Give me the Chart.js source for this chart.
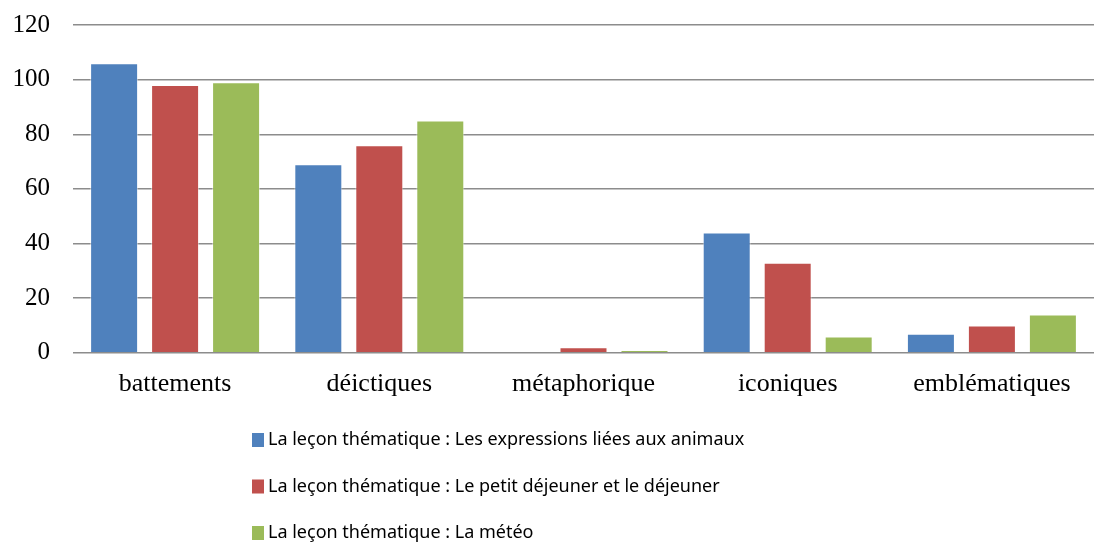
<!DOCTYPE html>
<html>
<head>
<meta charset="utf-8">
<script src="https://cdn.jsdelivr.net/npm/chart.js@4/dist/chart.umd.min.js"></script>
<style>
  html, body { margin: 0; padding: 0; background: #ffffff; }
  #wrap { width: 1094px; height: 546px; position: relative; }
</style>
</head>
<body>
<div id="wrap"><canvas id="c" width="1094" height="546"></canvas></div>
<script>
const categories = ["battements", "déictiques", "métaphorique", "iconiques", "emblématiques"];
const seriesNames = [
  "La leçon thématique : Les expressions liées aux animaux",
  "La leçon thématique : Le petit déjeuner et le déjeuner",
  "La leçon thématique : La météo"
];
const animaux = [106, 69, 0, 44, 7];
const dejeuner = [98, 76, 2, 33, 10];
const meteo = [99, 85, 1, 6, 14];
const seriesColors = ["#4F81BD", "#C0504D", "#9BBB59"];
const yTicks = [0, 20, 40, 60, 80, 100, 120];

const legendPlugin = {
  id: "stackedLegend",
  afterDraw(chart) {
    const ctx = chart.ctx;
    ctx.save();
    ctx.font = '18px "Noto Sans", "Open Sans", sans-serif';
    ctx.textBaseline = "middle";
    ctx.textAlign = "left";
    chart.data.datasets.forEach((ds, i) => {
      const y = 440 + i * 46.5;
      ctx.fillStyle = ds.backgroundColor;
      ctx.fillRect(252, y - 7, 12, 14);
      ctx.fillStyle = "#000000";
      ctx.fillText(ds.label, 268, y);
    });
    ctx.restore();
  }
};

new Chart(document.getElementById("c"), {
  type: "bar",
  data: {
    labels: categories,
    datasets: [
      { label: seriesNames[0], data: animaux, backgroundColor: seriesColors[0] },
      { label: seriesNames[1], data: dejeuner, backgroundColor: seriesColors[1] },
      { label: seriesNames[2], data: meteo, backgroundColor: seriesColors[2] }
    ].map(d => Object.assign(d, {
      borderColor: "rgba(255,255,255,0.5)",
      borderWidth: 1,
      categoryPercentage: 0.896,
      barPercentage: 0.787
    }))
  },
  options: {
    responsive: false,
    animation: false,
    layout: { padding: { top: 25, right: 0, bottom: 130, left: 0 } },
    plugins: {
      legend: { display: false },
      tooltip: { enabled: false }
    },
    scales: {
      x: {
        grid: { display: false, drawTicks: false },
        border: { display: false },
        ticks: {
          color: "#000000",
          font: { family: '"Liberation Serif", "Times New Roman", serif', size: 26 },
          padding: 16
        }
      },
      y: {
        min: 0,
        max: 120,
        afterBuildTicks(scale) { scale.ticks = yTicks.map(v => ({ value: v })); },
        afterFit(scale) { scale.width = 73; scale.paddingTop = 0; scale.paddingBottom = 0; },
        grid: { color: "#8c8c8c", lineWidth: 1.5, drawTicks: false },
        border: { display: false },
        ticks: {
          color: "#000000",
          font: { family: '"Liberation Serif", "Times New Roman", serif', size: 25 },
          padding: 23
        }
      }
    }
  },
  plugins: [legendPlugin]
});
</script>
</body>
</html>
